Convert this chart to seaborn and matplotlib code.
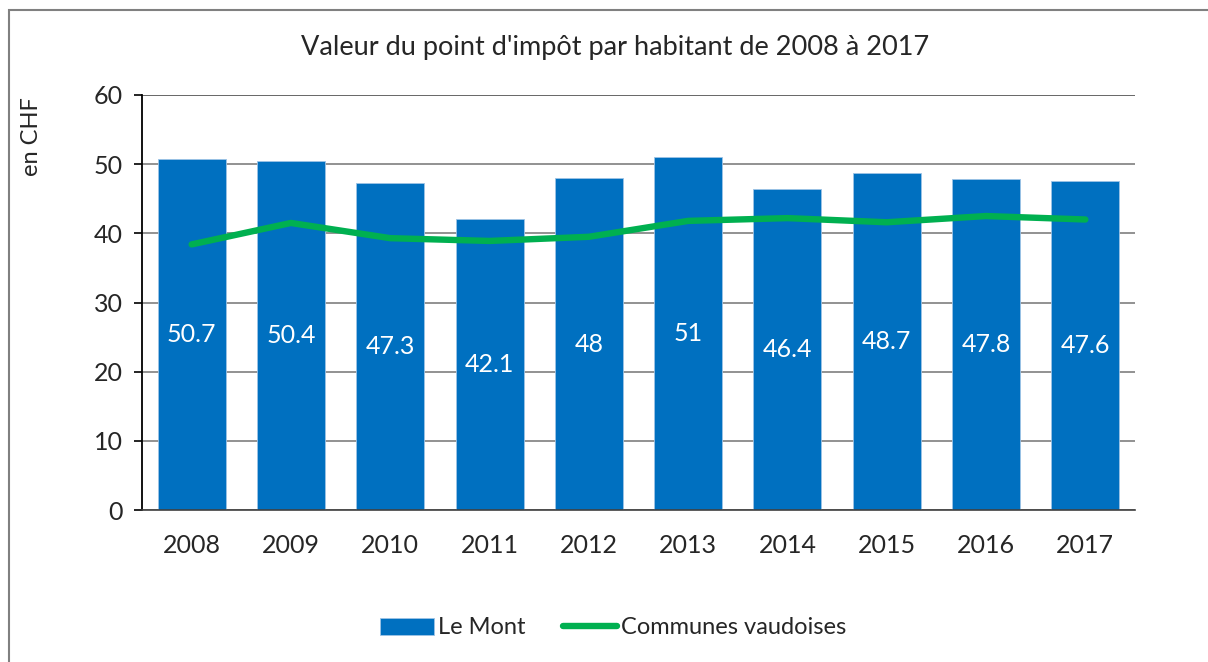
import numpy as np
import pandas as pd
import matplotlib
matplotlib.use("Agg")
import matplotlib.pyplot as plt
import seaborn as sns
from matplotlib.patches import Rectangle

# values
years = ["2008", "2009", "2010", "2011", "2012", "2013", "2014", "2015", "2016", "2017"]
le_mont = [50.7, 50.4, 47.3, 42.1, 48, 51, 46.4, 48.7, 47.8, 47.6]
communes_vd = [38.4, 41.5, 39.3, 38.9, 39.5, 41.8, 42.2, 41.6, 42.5, 42.0]

bar_color = "#0070C0"
line_color = "#00B050"

sns.set_style("white")
plt.rcParams["font.family"] = ["Lato", "DejaVu Sans"]

df = pd.DataFrame({"year": years, "le_mont": le_mont, "vd": communes_vd})

fig = plt.figure(figsize=(12.08, 6.62), dpi=100)
ax = fig.add_axes([142 / 1208, 1 - 510 / 662, (1135 - 142) / 1208, (510 - 95) / 662])

sns.barplot(data=df, x="year", y="le_mont", color=bar_color, saturation=1,
            width=0.685, edgecolor="#9DC3E6", linewidth=0.6, ax=ax, label="Le Mont")
sns.lineplot(x=np.arange(len(years)), y=df["vd"], color=line_color, linewidth=4.6,
             solid_capstyle="round", ax=ax, label="Communes vaudoises")

ax.bar_label(ax.containers[0], labels=[f"{v:g}" for v in le_mont], label_type="center",
             color="white", fontsize=18)

ax.set_ylim(0, 60)
ax.set_xlim(-0.5, len(years) - 0.5)
ax.set_yticks(range(0, 61, 10))
ax.set_xlabel("")
ax.set_ylabel("")
ax.tick_params(axis="y", labelsize=18, length=6, width=1.2, color="black", left=True, pad=8)
ax.tick_params(axis="x", labelsize=18, length=0, pad=17)

# gridlines
ax.yaxis.grid(True, color="#7f7f7f", linewidth=1.2)
ax.set_axisbelow(True)
for s in ["top", "right"]:
    ax.spines[s].set_visible(False)
ax.spines["left"].set_color("black")
ax.spines["left"].set_linewidth(1.3)
ax.spines["bottom"].set_color("#404040")
ax.spines["bottom"].set_linewidth(1.2)
ax.axhline(60, color="black", linewidth=1.4, zorder=0.5)

fig.text(615 / 1208, 1 - 48 / 662, "Valeur du point d'impôt par habitant de 2008 à 2017",
         ha="center", va="center", fontsize=19.5)
fig.text(32 / 1208, 1 - 137 / 662, "en CHF", rotation=90, ha="center", va="center", fontsize=17)

if ax.legend_:
    ax.legend_.remove()
handles, labels = ax.get_legend_handles_labels()
order = [labels.index("Le Mont"), labels.index("Communes vaudoises")]
fig.legend([handles[i] for i in order], [labels[i] for i in order], loc="center",
           bbox_to_anchor=(613 / 1208, 1 - 628 / 662), ncol=2, frameon=False, fontsize=17,
           handlelength=2.3, handletextpad=0.15, columnspacing=1.6)

# outer border of the chart
fig.patches.append(Rectangle((9 / 1208, -0.05), 1.1, 1 - 10 / 662 + 0.05,
                             transform=fig.transFigure, fill=False,
                             edgecolor="#808080", linewidth=1.5))

fig.savefig("out.png", dpi=100)
